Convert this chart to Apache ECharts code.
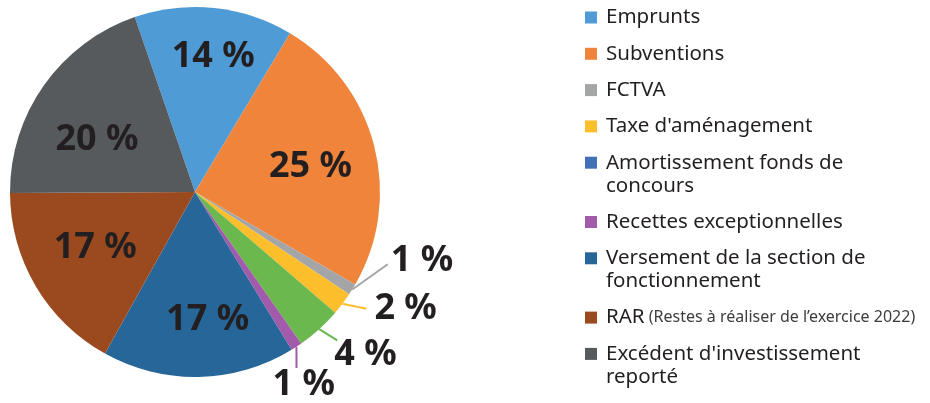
<!DOCTYPE html>
<html>
<head>
<meta charset="UTF-8">
<title>Recettes d'investissement</title>
<style>
  html, body { margin: 0; padding: 0; background: #fff; }
  #chart { width: 930px; height: 403px; }
</style>
</head>
<body>
<div id="chart"></div>
<script src="https://cdn.jsdelivr.net/npm/echarts@6/dist/echarts.min.js"></script>
<script>
  // catégories de recettes (ordre du camembert et de la légende)
  var categories = [
    'Emprunts',
    'Subventions',
    'FCTVA',
    "Taxe d'aménagement",
    'Amortissement fonds de concours',
    'Recettes exceptionnelles',
    'Versement de la section de fonctionnement',
    'RAR',
    "Excédent d'investissement reporté"
  ];
  // parts en %
  var values = [14, 25, 1, 2, 4, 1, 17, 17, 20];
  // libellés de légende (retour à la ligne comme dans l'original)
  var legendLines = [
    ['Emprunts'],
    ['Subventions'],
    ['FCTVA'],
    ["Taxe d'aménagement"],
    ['Amortissement fonds de', 'concours'],
    ['Recettes exceptionnelles'],
    ['Versement de la section de', 'fonctionnement'],
    ['RAR'],
    ["Excédent d'investissement", 'reporté']
  ];
  var rarNote = '(Restes à réaliser de l\u2019exercice 2022)';

  var sliceColors = ['#4e9bd5', '#f0843a', '#a3a5a6', '#fdbe2c', '#6ab84e', '#a25bab', '#266699', '#9b4a1f', '#565a5c'];
  var legendColors = ['#4e9bd5', '#f0843a', '#a3a5a6', '#fdbe2c', '#4170b7', '#a25bab', '#266699', '#9b4a1f', '#565a5c'];
  var small = [false, false, true, true, true, true, false, false, false];
  // traits de rappel et décalage des étiquettes (placement à la main comme sur l'original)
  var lineLen = [0, 0, 30, 20, 18, 22, 0, 0, 0];
  var lineLen2 = [0, 0, 4, 6, 4, 0, 0, 0, 0];
  var outerShift = [null, null, [7, -45], [8, -7], [-3, 12], [-38, 20], null, null, null];
  // bout du trait : [décalage depuis le bord gauche, décalage depuis le milieu] de l'étiquette
  var lineTip = [null, null, [-3, 4], [-8, 0], [3, -14], [24, -17], null, null, null];
  var innerShift = [[5, -8], [-8, 7], null, null, null, null, [10, 0], [10, -9], [6, 22]];

  var chart = echarts.init(document.getElementById('chart'));

  var fontFamily = '"Noto Sans", "Open Sans", sans-serif';
  var textColor = '#231f20';

  var rich = {
    t: { fontSize: 20.5, lineHeight: 23, color: textColor, fontFamily: fontFamily, padding: [0, 0, 0, 9] },
    n: { fontSize: 16, lineHeight: 23, color: '#3d3d3d', fontFamily: fontFamily },
    sp: { width: 12, height: 12 }
  };
  legendColors.forEach(function (c, i) {
    rich['c' + i] = { width: 12, height: 12, backgroundColor: c, verticalAlign: 'middle' };
  });

  var pieData = categories.map(function (name, i) {
    var item = { name: name, value: values[i], itemStyle: { color: sliceColors[i] } };
    if (small[i]) {
      item.labelLine = { show: true, length: lineLen[i], length2: lineLen2[i], lineStyle: { color: sliceColors[i], width: 2 } };
    } else {
      item.label = { show: false };
      item.labelLine = { show: false };
    }
    return item;
  });

  var innerData = categories.map(function (name, i) {
    return { name: name, value: values[i], label: { show: !small[i] } };
  });

  var option = {
    backgroundColor: '#fff',
    animation: false,
    legend: {
      orient: 'vertical',
      left: 580,
      top: 6,
      height: 403,
      padding: 0,
      itemGap: 13.3,
      itemWidth: 0,
      itemHeight: 12,
      icon: 'none',
      selectedMode: false,
      data: categories,
      formatter: function (name) {
        var i = categories.indexOf(name);
        var lines = legendLines[i];
        var s = '{c' + i + '|}{t|' + lines[0] + '}';
        if (name === 'RAR') s += '{n| ' + rarNote + '}';
        for (var k = 1; k < lines.length; k++) {
          s += '\n{sp|}{t|' + lines[k] + '}';
        }
        return s;
      },
      textStyle: { rich: rich, fontFamily: fontFamily, fontSize: 20.5, lineHeight: 23, color: textColor }
    },
    series: [{
      name: 'parts',
      type: 'pie',
      center: [195, 192],
      radius: 185,
      startAngle: 109,
      clockwise: true,
      avoidLabelOverlap: false,
      label: {
        show: true,
        position: 'outside',
        formatter: '{c} %',
        fontFamily: fontFamily,
        fontWeight: 'bold',
        fontSize: 36,
        color: textColor,
        distanceToLabelLine: 2
      },
      labelLayout: function (params) {
        var i = params.dataIndex;
        var s = outerShift[i];
        if (!s) return {};
        var r = params.labelRect;
        var res = { dx: s[0], dy: s[1] };
        var pts = params.labelLinePoints;
        if (pts && pts.length) {
          var tip = [r.x + s[0] + lineTip[i][0], r.y + s[1] + r.height / 2 + lineTip[i][1]];
          res.labelLinePoints = [pts[0], tip, tip];
        }
        return res;
      },
      emphasis: { disabled: true },
      data: pieData
    }, {
      name: 'etiquettes',
      type: 'pie',
      center: [195, 192],
      radius: [64, 185],
      startAngle: 109,
      clockwise: true,
      silent: true,
      itemStyle: { color: 'rgba(0,0,0,0)' },
      labelLine: { show: false },
      label: {
        position: 'inside',
        formatter: '{c} %',
        fontFamily: fontFamily,
        fontWeight: 'bold',
        fontSize: 36,
        color: textColor
      },
      labelLayout: function (params) {
        var s = innerShift[params.dataIndex];
        return s ? { dx: s[0], dy: s[1] } : {};
      },
      emphasis: { disabled: true },
      data: innerData
    }]
  };

  chart.setOption(option);
  window.addEventListener('resize', function () {
    chart.resize();
  });
</script>
</body>
</html>
